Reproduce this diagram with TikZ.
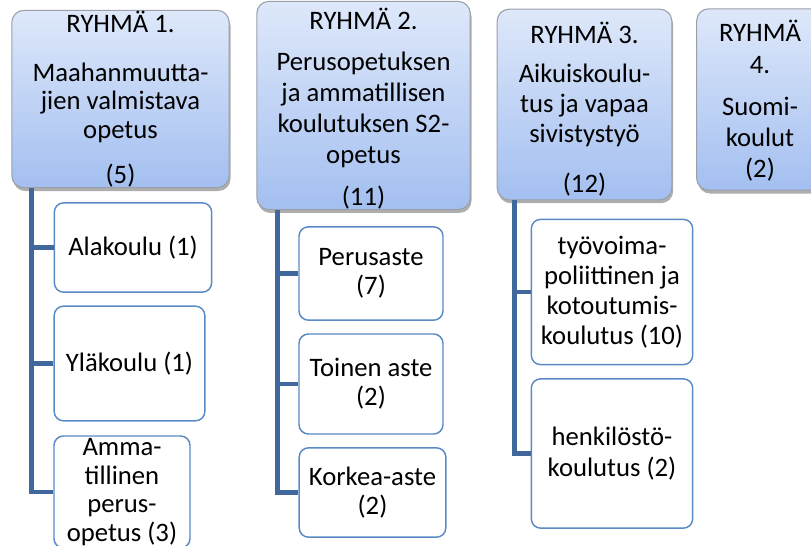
\documentclass[tikz,border=0pt]{standalone}
\usepackage{fontspec}
\setmainfont{Carlito}
\usetikzlibrary{calc,shadows}
\definecolor{grptop}{HTML}{DEE8FA}
\definecolor{grpbot}{HTML}{A3BFF0}
\definecolor{grpline}{HTML}{9A9FAA}
\definecolor{subline}{HTML}{5A8AC6}
\definecolor{linkcol}{HTML}{41689C}
\begin{document}
\begin{tikzpicture}[
        x=0.75pt, y=-0.75pt,
        font=\fontsize{20}{21.5}\selectfont,
        grp/.style={draw=grpline, line width=0.8pt, rounded corners=9pt,
            top color=grptop, bottom color=grpbot, align=center,
            inner sep=0pt,
            drop shadow={shadow xshift=1pt, shadow yshift=-2.5pt, opacity=0.45, fill=black!70}},
        sub/.style={draw=subline, line width=1.1pt, rounded corners=7pt,
            fill=white, align=center, inner sep=0pt},
        link/.style={draw=linkcol, line width=3.6pt}
        ]
    \useasboundingbox (0,0) rectangle (811,546);
    \clip (0,0) rectangle (811,546);
    % groups
    \node [grp, minimum width=163pt, minimum height=133pt] (g1) at (120.5,99)
        {RYHMÄ 1.\\[15pt]Maahanmuutta-\\jien valmistava\\opetus\\[12pt](5)};
    \node [grp, minimum width=160pt, minimum height=145pt] (g2) at (363.5,105.5)
        {\rule{0pt}{21pt}RYHMÄ 2.\\[9.5pt]Perusopetuksen\\[1.8pt]ja ammatillisen\\[1.8pt]koulutuksen S2-\\[1.8pt]opetus\\[10pt](11)};
    \node [grp, minimum width=131pt, minimum height=143pt] (g3) at (584.5,104.5)
        {\rule{0pt}{23pt}RYHMÄ 3.\\[8pt]Aikuiskoulu-\\[1pt]tus ja vapaa\\[1pt]sivistystyö\\[15.5pt](12)};
    \node [grp, minimum width=95pt, minimum height=136pt] (g4) at (760,99.5)
        {\rule{0pt}{18pt}RYHMÄ\\[2.5pt]4.\\[10pt]Suomi-\\[1.5pt]koulut\\[1.5pt](2)};
    % group 1
    \node [sub, minimum width=118pt, minimum height=67pt] (c11) at (133,247.5) {Alakoulu (1)};
    \node [sub, minimum width=113pt, minimum height=86pt] (c12) at (129.5,363.5) {Yläkoulu (1)};
    \node [sub, minimum width=102pt, minimum height=84pt] (c13) at (122,492) {Amma-\\tillinen\\perus-\\opetus (3)};
    % group 2
    \node [sub, minimum width=108pt, minimum height=70pt] (c21) at (371,273.5) {Perusaste\\(7)};
    \node [sub, minimum width=108pt, minimum height=75pt] (c22) at (371,384) {Toinen aste\\(2)};
    \node [sub, minimum width=110pt, minimum height=67pt] (c23) at (372.5,492.5) {Korkea-aste\\(2)};
    % group 3
    \node [sub, minimum width=121pt, minimum height=109pt] (c31) at (612,292) {työvoima-\\[1pt]poliittinen ja\\[1pt]kotoutumis-\\[1pt]koulutus (10)};
    \node [sub, minimum width=121pt, minimum height=112pt] (c32) at (612,453.5) {henkilöstö-\\[2pt]koulutus (2)};
    % connectors
    \foreach \c in {c11,c12,c13}
        \draw [link] ($(g1.south west)+(20.5,0)$) |- (\c.west);
    \foreach \c in {c21,c22,c23}
        \draw [link] ($(g2.south west)+(21.5,0)$) |- (\c.west);
    \foreach \c in {c31,c32}
        \draw [link] ($(g3.south west)+(17.5,0)$) |- (\c.west);
\end{tikzpicture}
\end{document}
